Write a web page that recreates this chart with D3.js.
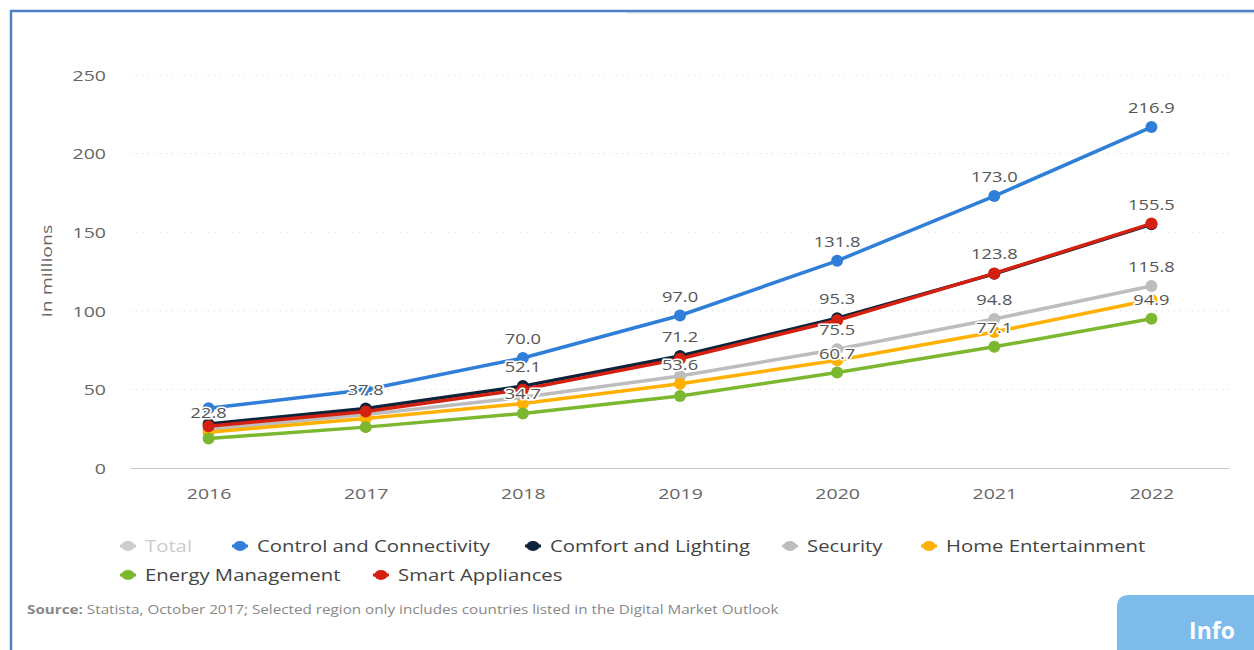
<!DOCTYPE html>
<html><head><meta charset="utf-8">
<script src="https://cdn.jsdelivr.net/npm/d3@7"></script>
<style>
html,body{margin:0;padding:0;background:#fff;}
svg{display:block;font-family:"Open Sans","Noto Sans",sans-serif;}
</style></head>
<body>
<svg id="c" width="1254" height="650"></svg>
<script>
const years = ["2016","2017","2018","2019","2020","2021","2022"];
const yTicks = [0,50,100,150,200,250];
const seriesNames = ["Total","Control and Connectivity","Comfort and Lighting","Security","Home Entertainment","Energy Management","Smart Appliances"];
const seriesColors = ["#cccccc","#2f7ed8","#0d233a","#bdbdbd","#ffb000","#7cb82f","#d42010"];
const controlConnectivity = [38.0, 49.8, 70.0, 97.0, 131.8, 173.0, 216.9];
const comfortLighting   = [28.0, 37.8, 52.1, 71.2, 95.3, 123.5, 155.0];
const security          = [24.5, 34.0, 45.0, 58.5, 75.5, 94.8, 115.8];
const homeEntertainment = [22.8, 31.5, 41.0, 53.6, 68.5, 86.5, 107.0];
const energyManagement  = [18.8, 26.0, 34.7, 45.8, 60.7, 77.1, 94.9];
const smartAppliances   = [26.5, 36.0, 50.0, 69.5, 94.0, 123.8, 155.5];
// indices of points whose data label is visible (others hidden by overlap)
const labelsControl = [2,3,4,5,6];
const labelsComfort = [1,2,3,4];
const labelsSecurity = [4,5,6];
const labelsHome = [0,3];
const labelsEnergy = [2,4,5,6];
const labelsSmart = [5,6];

const drawn = [
  {name:seriesNames[1], color:seriesColors[1], values:controlConnectivity, labels:labelsControl},
  {name:seriesNames[2], color:seriesColors[2], values:comfortLighting, labels:labelsComfort},
  {name:seriesNames[3], color:seriesColors[3], values:security, labels:labelsSecurity},
  {name:seriesNames[4], color:seriesColors[4], values:homeEntertainment, labels:labelsHome},
  {name:seriesNames[5], color:seriesColors[5], values:energyManagement, labels:labelsEnergy},
  {name:seriesNames[6], color:seriesColors[6], values:smartAppliances, labels:labelsSmart}
];

const svg = d3.select("#c");
// frame
svg.append("rect").attr("x",626).attr("y",12).attr("width",628).attr("height",2).attr("fill","#ececec");
svg.append("line").attr("x1",10).attr("x2",1254).attr("y1",11).attr("y2",11).attr("stroke","#4d80c4").attr("stroke-width",2.5);
svg.append("line").attr("x1",11).attr("x2",11).attr("y1",10).attr("y2",650).attr("stroke","#4d80c4").attr("stroke-width",2.5);

const x = d3.scalePoint().domain(years).range([130,1230]).padding(0.5);
const y = d3.scaleLinear().domain([0,250]).range([468,75]);

// grid
svg.append("g").selectAll("line").data(yTicks.filter(d=>d>0)).join("line")
  .attr("x1",130).attr("x2",1230).attr("y1",d=>y(d)).attr("y2",d=>y(d))
  .attr("stroke","#d8d8d8").attr("stroke-width",1).attr("stroke-dasharray","1,5");

// y axis labels
const yAxis = d3.axisLeft(y).tickValues(yTicks).tickSize(0).tickPadding(0);
const gy = svg.append("g").attr("transform","translate(106,0)").call(yAxis);
gy.select(".domain").remove();
gy.selectAll("text").attr("fill","#666").attr("font-size",15).attr("x",0)
  .attr("font-family","'Open Sans','Noto Sans',sans-serif").attr("dy","0.35em").attr("transform","scale(1.3,1)");

svg.append("text").attr("transform","translate(52,271) rotate(-90) scale(1.3,1)").attr("text-anchor","middle")
  .attr("fill","#666").attr("font-size",15).text("in millions");

// x axis
const xAxis = d3.axisBottom(x).tickSize(0).tickPadding(20);
const gx = svg.append("g").attr("transform","translate(0,468)").call(xAxis);
gx.select(".domain").attr("stroke","#c8c8c8").attr("stroke-width",1.2).attr("d","M130,0.5H1230");
gx.selectAll("text").attr("fill","#666").attr("font-size",15)
  .attr("font-family","'Open Sans','Noto Sans',sans-serif").attr("transform","scale(1.3,1)");

// lines
const line = d3.line().x((d,i)=>x(years[i])).y(d=>y(d));
const gs = svg.append("g");
drawn.forEach(s=>{
  const g = gs.append("g");
  g.append("path").attr("d",line(s.values)).attr("fill","none").attr("stroke",s.color).attr("stroke-width",3.5).attr("stroke-linejoin","round");
  g.selectAll("circle").data(s.values).join("circle")
    .attr("cx",(d,i)=>x(years[i])).attr("cy",d=>y(d)).attr("r",6).attr("fill",s.color);
});
// data labels
const gl = svg.append("g");
drawn.forEach(s=>{
  s.labels.forEach(i=>{
    const v = s.values[i];
    gl.append("text").attr("transform",`translate(${x(years[i])},${y(v)-14}) scale(1.22,1)`).attr("text-anchor","middle")
      .attr("font-size",15).attr("fill","#555").attr("stroke","#fff").attr("stroke-width",3)
      .attr("paint-order","stroke").attr("stroke-linejoin","round")
      .text(v.toFixed(1));
  });
});

// legend
const legendItems = [
  {name:seriesNames[0], color:seriesColors[0], x:128, y:546, hidden:true},
  {name:seriesNames[1], color:seriesColors[1], x:240, y:546},
  {name:seriesNames[2], color:seriesColors[2], x:533, y:546},
  {name:seriesNames[3], color:seriesColors[3], x:790, y:546},
  {name:seriesNames[4], color:seriesColors[4], x:929, y:546},
  {name:seriesNames[5], color:seriesColors[5], x:128, y:575},
  {name:seriesNames[6], color:seriesColors[6], x:381, y:575}
];
const lg = svg.append("g");
legendItems.forEach(it=>{
  const g = lg.append("g").attr("transform",`translate(${it.x},${it.y})`);
  g.append("line").attr("x1",-8).attr("x2",8).attr("stroke",it.color).attr("stroke-width",3);
  g.append("ellipse").attr("rx",6.5).attr("ry",5).attr("fill",it.color);
  g.append("text").attr("transform","translate(17,0) scale(1.27,1)").attr("dy","0.35em").attr("font-size",16)
    .attr("fill",it.hidden?"#cccccc":"#444").text(it.name);
});

// source
const src = svg.append("text").attr("transform","translate(27,614) scale(1.27,1)").attr("font-size",12).attr("fill","#888");
src.append("tspan").attr("font-weight","bold").text("Source:");
src.append("tspan").text(" Statista, October 2017; Selected region only includes countries listed in the Digital Market Outlook");

// info button
svg.append("path").attr("d","M1117,650 V607 Q1117,595 1129,595 H1254 V650 Z").attr("fill","#7dbbea");
svg.append("text").attr("x",1212).attr("y",639).attr("text-anchor","middle").attr("font-size",23)
  .attr("font-weight","bold").attr("fill","#fff").text("Info");
</script>
</body></html>
